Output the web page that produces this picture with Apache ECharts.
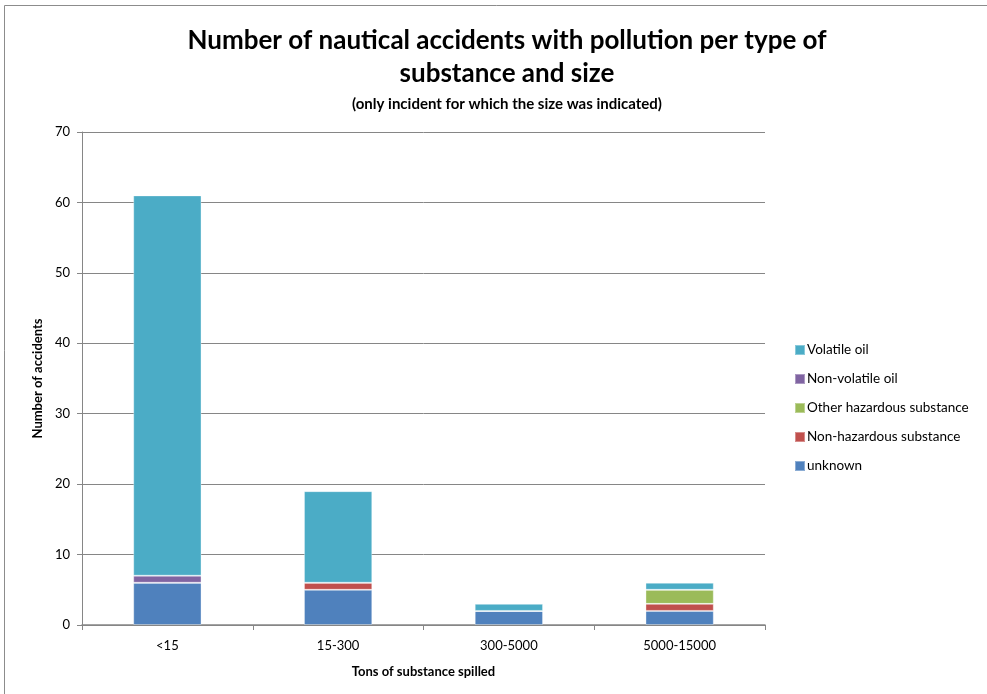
<!DOCTYPE html>
<html>
<head>
<meta charset="utf-8">
<script src="https://cdn.jsdelivr.net/npm/echarts@6/dist/echarts.min.js"></script>
<style>
html,body{margin:0;padding:0;background:#fff;}
#chart{width:987px;height:694px;}
</style>
</head>
<body>
<div id="chart"></div>
<script>
// Spill size classes (tons)
var categories = ['<15', '15-300', '300-5000', '5000-15000'];

// Accident counts per substance type, one value per size class
var unknown = [6, 5, 2, 2];
var nonHazardous = [0, 1, 0, 1];
var otherHazardous = [0, 0, 0, 2];
var nonVolatileOil = [1, 0, 0, 0];
var volatileOil = [54, 13, 1, 1];

var yTicks = { min: 0, max: 70, interval: 10 };

var FONT = 'Lato, "Open Sans", sans-serif';

function stackSeries(name, data, color) {
  return {
    name: name,
    type: 'bar',
    stack: 'total',
    data: data,
    barWidth: '40%',
    itemStyle: { color: color, borderColor: 'rgba(255,255,255,0.35)', borderWidth: 1 },
    emphasis: { disabled: true }
  };
}

var chart = echarts.init(document.getElementById('chart'));
chart.setOption({
  animation: false,
  textStyle: { fontFamily: FONT },
  title: [
    {
      text: 'Number of nautical accidents with pollution per type of\nsubstance and size',
      left: 502, top: 19, textAlign: 'center',
      textStyle: { fontFamily: FONT, fontSize: 26, fontWeight: 'bold', color: '#000', lineHeight: 33 }
    },
    {
      text: '(only incident for which the size was indicated)',
      left: 502, top: 92, textAlign: 'center',
      textStyle: { fontFamily: FONT, fontSize: 15, fontWeight: 'bold', color: '#000' }
    }
  ],
  graphic: [
    {
      type: 'rect',
      shape: { x: 4.5, y: 5.5, width: 1000, height: 700 },
      style: { fill: 'none', stroke: '#8c8c8c', lineWidth: 1 },
      silent: true
    }
  ],
  legend: {
    orient: 'vertical',
    left: 789, top: 338,
    itemWidth: 10, itemHeight: 10, itemGap: 15,
    icon: 'rect',
    data: ['Volatile oil', 'Non-volatile oil', 'Other hazardous substance', 'Non-hazardous substance', 'unknown'],
    textStyle: { fontFamily: FONT, fontSize: 13.5, color: '#000', padding: [0, 0, 0, -3] },
    selectedMode: false
  },
  grid: { left: 82, right: 222, top: 132, bottom: 69, containLabel: false },
  xAxis: {
    type: 'category',
    data: categories,
    name: 'Tons of substance spilled',
    nameLocation: 'middle',
    nameGap: 40,
    nameTextStyle: { fontFamily: FONT, fontSize: 13, fontWeight: 'bold', color: '#000' },
    axisLine: { lineStyle: { color: '#868686', width: 1.5 } },
    axisTick: { show: true, alignWithLabel: false, length: 5, lineStyle: { color: '#868686' } },
    axisLabel: { fontFamily: FONT, fontSize: 13, color: '#000', margin: 14 }
  },
  yAxis: {
    type: 'value',
    min: yTicks.min, max: yTicks.max, interval: yTicks.interval,
    name: 'Number of accidents',
    nameLocation: 'middle',
    nameGap: 38,
    nameTextStyle: { fontFamily: FONT, fontSize: 13, fontWeight: 'bold', color: '#000' },
    axisLine: { show: true, lineStyle: { color: '#868686', width: 1 } },
    axisTick: { show: true, inside: false, length: 5, lineStyle: { color: '#868686' } },
    axisLabel: { fontFamily: FONT, fontSize: 13, color: '#000', margin: 12 },
    splitLine: { lineStyle: { color: '#868686', width: 1 } }
  },
  series: [
    stackSeries('unknown', unknown, '#4F81BD'),
    stackSeries('Non-hazardous substance', nonHazardous, '#C0504D'),
    stackSeries('Other hazardous substance', otherHazardous, '#9BBB59'),
    stackSeries('Non-volatile oil', nonVolatileOil, '#8064A2'),
    stackSeries('Volatile oil', volatileOil, '#4BACC6')
  ]
});
</script>
</body>
</html>
